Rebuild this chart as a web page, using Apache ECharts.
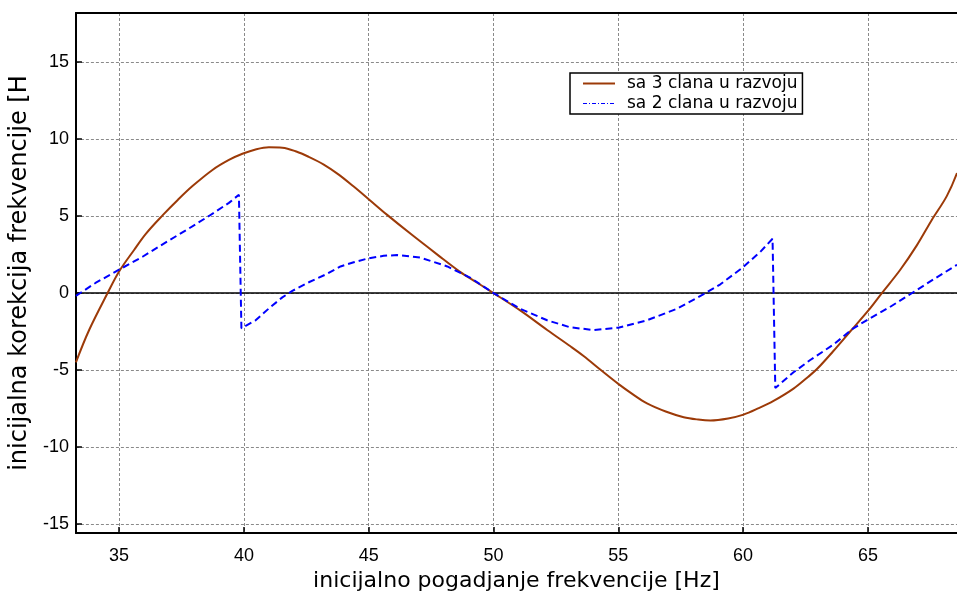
<!DOCTYPE html>
<html>
<head>
<meta charset="utf-8">
<script src="https://cdn.jsdelivr.net/npm/echarts@6/dist/echarts.min.js"></script>
<style>html,body{margin:0;padding:0;background:#fff;}#c{width:957px;height:597px;}</style>
</head>
<body>
<div id="c"></div>
<script>
// ---- data ----
const xTicks = [35, 40, 45, 50, 55, 60, 65];
const yTicks = [-15, -10, -5, 0, 5, 10, 15];
const xRange = [33.27, 68.57];
const yRange = [-15.6, 18.2];

const seriesNames = ['sa 3 clana u razvoju', 'sa 2 clana u razvoju'];

const brownX = [33.27,33.8,34.54,35,35.6,36.07,36.74,37.35,37.94,38.74,39.4,39.94,40.5,41.0,41.54,42.1,42.6,43.2,43.8,44.4,45.0,45.74,46.68,47.75,48.66,49.3,50,51.07,52.15,53.08,53.61,54.3,55.0,55.6,56.15,56.9,57.62,58.2,58.69,59.4,60.02,60.6,61.22,62.02,62.6,62.96,63.6,64.29,65.02,65.56,66.29,66.96,67.56,68.16,68.57];
const brownY = [-4.5,-2.4,0,1.4,2.8,3.85,5.05,6.05,6.95,8.0,8.65,9.05,9.35,9.48,9.45,9.2,8.85,8.35,7.7,6.92,6.1,5.08,3.85,2.5,1.38,0.72,0,-1.13,-2.4,-3.46,-4.09,-5.0,-5.9,-6.6,-7.17,-7.7,-8.07,-8.22,-8.28,-8.15,-7.9,-7.5,-7.01,-6.21,-5.45,-4.94,-3.8,-2.5,-1.13,0,1.5,3.1,4.75,6.3,7.8];

const blueX = [33.27,34.07,35,35.94,37.0,37.8,38.6,39.4,39.8,39.9,40.47,41.0,41.54,41.94,42.6,43.27,43.87,44.4,45.0,45.6,46.14,47.08,48.15,49.08,50,51.07,52.15,53.08,54.01,55.0,56.15,57.35,58.42,59.09,59.96,60.69,61.18,61.29,62.02,62.69,63.62,64.42,64.95,65.88,66.81,67.62,68.57];
const blueY = [-0.18,0.67,1.52,2.36,3.42,4.2,5.01,5.86,6.39,-2.29,-1.77,-1.0,-0.28,0.14,0.7,1.2,1.73,2.0,2.26,2.42,2.47,2.3,1.73,0.99,0,-1.02,-1.77,-2.23,-2.4,-2.25,-1.77,-1.02,-0.07,0.57,1.63,2.68,3.53,-6.17,-5.15,-4.35,-3.35,-2.29,-1.77,-0.91,0.04,0.88,1.84];

const zip = (xs, ys) => xs.map((x, i) => [x, ys[i]]);

const chart = echarts.init(document.getElementById('c'), null, {renderer: 'canvas'});
const tickFont = {fontFamily: 'Liberation Sans, Arial, sans-serif', fontSize: 18, color: '#000'};
const gridLine = {show: true, lineStyle: {color: '#8a8a8a', width: 1, type: [3, 2]}};
const noSymbol = {color: 'rgba(0,0,0,0)', borderColor: 'rgba(0,0,0,0)', borderWidth: 0};

chart.setOption({
  animation: false,
  backgroundColor: '#fff',
  grid: {left: 75, top: 13, right: 0, bottom: 52, containLabel: false},
  legend: {
    orient: 'vertical',
    left: 570, top: 73,
    backgroundColor: '#fff',
    borderColor: '#000', borderWidth: 1.5, borderRadius: 0,
    padding: [2, 5, 2, 12],
    itemWidth: 32, itemHeight: 14, itemGap: 3,
    itemStyle: noSymbol,
    textStyle: {fontFamily: 'DejaVu Sans', fontSize: 17, color: '#000', padding: [0, 0, 0, 7]},
    data: [
      {name: seriesNames[0], itemStyle: noSymbol, lineStyle: {color: '#9C3A08', width: 2}},
      {name: seriesNames[1], itemStyle: noSymbol, lineStyle: {color: '#0000FF', type: [4, 2, 1, 2], width: 1}}
    ]
  },
  xAxis: [{
    type: 'value', min: xRange[0], max: xRange[1],
    name: 'inicijalno pogadjanje frekvencije [Hz]',
    nameLocation: 'middle', nameGap: 36,
    nameTextStyle: {fontFamily: 'DejaVu Sans', fontSize: 22, color: '#000'},
    axisLine: {show: true, onZero: false, lineStyle: {color: '#000', width: 2}},
    axisTick: {show: true, inside: true, length: 6, customValues: xTicks, lineStyle: {color: '#000', width: 1.5}},
    axisLabel: Object.assign({show: true, margin: 14, customValues: xTicks}, tickFont),
    splitLine: gridLine
  }, {
    type: 'value', min: xRange[0], max: xRange[1], position: 'top',
    axisLine: {show: true, onZero: false, lineStyle: {color: '#000', width: 2}},
    axisTick: {show: false}, axisLabel: {show: false}, splitLine: {show: false}
  }],
  yAxis: {
    type: 'value', min: yRange[0], max: yRange[1],
    name: 'inicijalna korekcija frekvencije [H',
    nameLocation: 'middle', nameGap: 42, nameRotate: 90,
    nameTextStyle: {fontFamily: 'DejaVu Sans', fontSize: 24, color: '#000'},
    axisLine: {show: true, onZero: false, lineStyle: {color: '#000', width: 2}},
    axisTick: {show: true, inside: true, length: 6, customValues: yTicks, lineStyle: {color: '#000', width: 1.5}},
    axisLabel: Object.assign({show: true, margin: 7, customValues: yTicks}, tickFont),
    splitLine: gridLine
  },
  series: [{
    name: seriesNames[0], type: 'line', showSymbol: false, symbol: 'none',
    smooth: 0.35,
    data: zip(brownX, brownY),
    lineStyle: {color: '#9C3A08', width: 2},
    itemStyle: {color: '#9C3A08'},
    z: 3,
    markLine: {
      silent: true, symbol: 'none', label: {show: false},
      lineStyle: {color: '#000', width: 1.5, type: 'solid'},
      data: [{yAxis: 0}], z: 1
    }
  }, {
    name: seriesNames[1], type: 'line', showSymbol: false, symbol: 'none',
    data: zip(blueX, blueY),
    lineStyle: {color: '#0000FF', width: 2, type: [7, 4]},
    itemStyle: {color: '#0000FF'},
    z: 4
  }]
});
</script>
</body>
</html>
